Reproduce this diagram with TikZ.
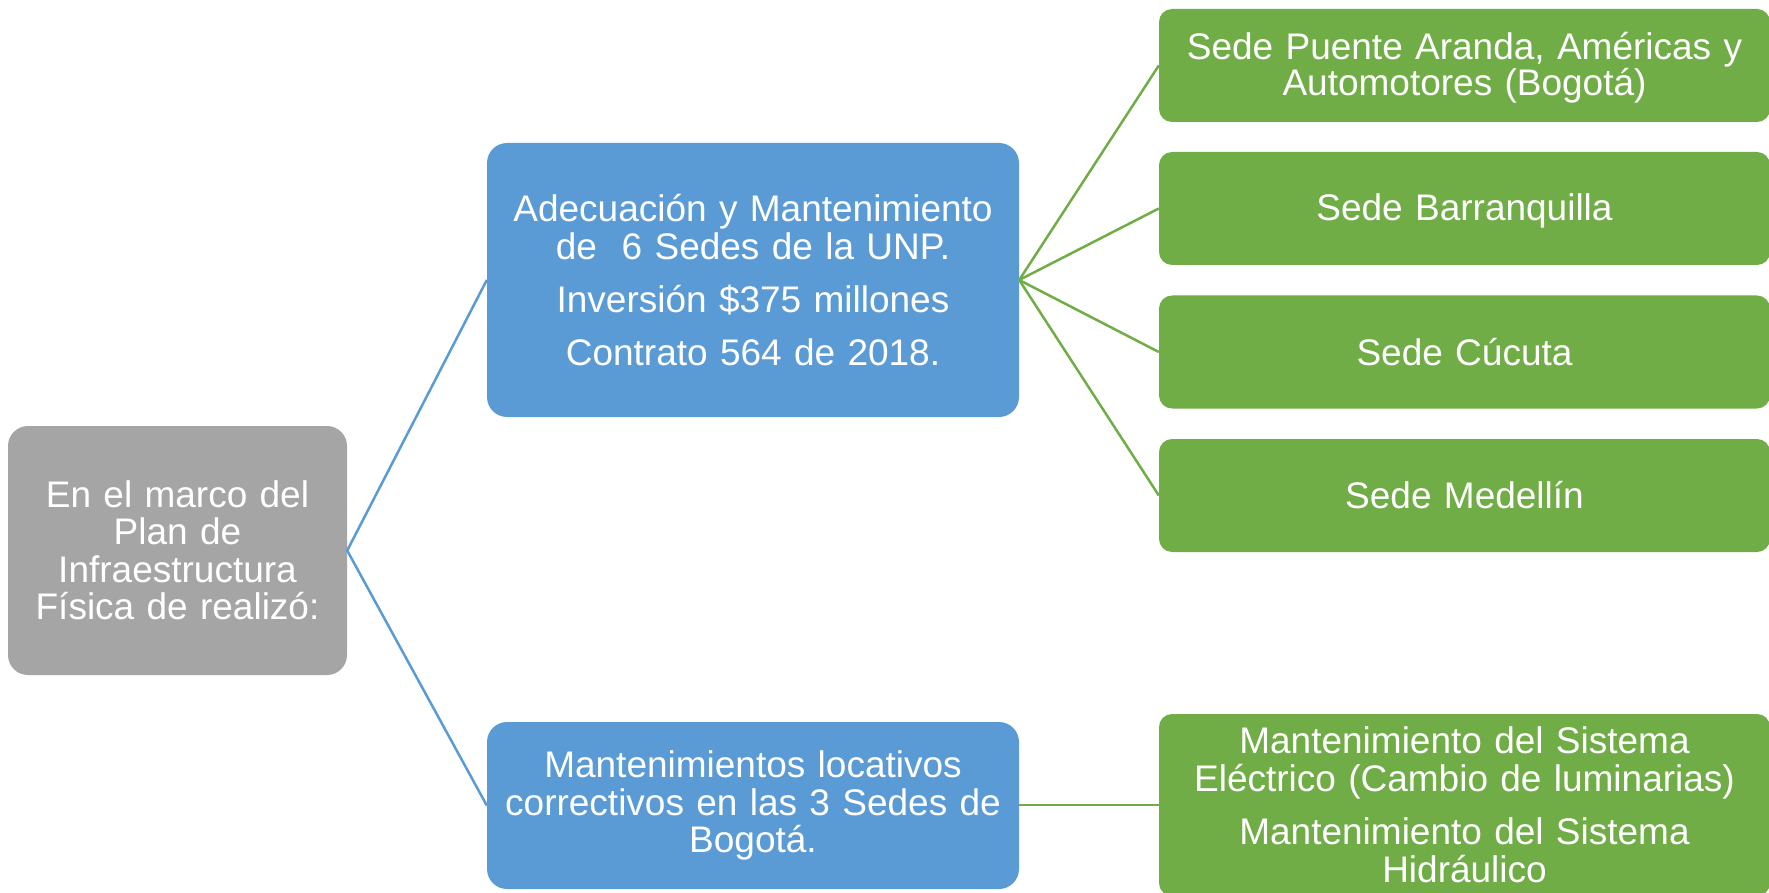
\documentclass[tikz,border=0pt]{standalone}
\usepackage{fontspec}
\setmainfont{Liberation Sans}
\definecolor{boxgray}{HTML}{A5A5A5}
\definecolor{boxblue}{HTML}{5B9BD5}
\definecolor{boxgreen}{HTML}{70AD47}
\tikzset{
  base/.style={rounded corners=20pt, text=white, align=center, inner sep=0pt,
    font=\fontsize{37}{37.5}\selectfont},
  graybox/.style={base, fill=boxgray},
  bluebox/.style={base, fill=boxblue},
  greenbox/.style={base, fill=boxgreen, rounded corners=13pt},
  blueline/.style={draw=boxblue, line width=2.5pt},
  greenline/.style={draw=boxgreen, line width=2.5pt},
}
\begin{document}
\begin{tikzpicture}[x=1pt,y=-1pt]
\useasboundingbox (0,0) rectangle (1769,893);
\clip (0,0) rectangle (1769,893);
\node[graybox, minimum width=339pt, minimum height=249pt, text width=320pt] (g) at (177.5,550.5)
  {En el marco del\\Plan de\\Infraestructura\\Física de realizó:};
\node[bluebox, minimum width=532pt, minimum height=274pt, text width=510pt] (b1) at (753,280)
  {Adecuación y Mantenimiento\\de\ \ 6 Sedes de la UNP.\\[16pt]Inversión \$375 millones\\[15pt]Contrato 564 de 2018.};
\node[bluebox, minimum width=532pt, minimum height=167pt, text width=510pt] (b2) at (753,805.5)
  {Mantenimientos locativos\\correctivos en las 3 Sedes de\\Bogotá.};
\node[greenbox, minimum width=611pt, minimum height=113pt, text width=600pt, text height=0pt, text depth=11.5pt] (s1) at (1464.5,65.5)
  {Sede Puente Aranda, Américas y\\[-1.5pt]Automotores (Bogotá)};
\node[greenbox, minimum width=611pt, minimum height=113pt, text width=600pt, text height=24.5pt, text depth=0pt] (s2) at (1464.5,208.5)
  {Sede Barranquilla};
\node[greenbox, minimum width=611pt, minimum height=113pt, text width=600pt] (s3) at (1464.5,352)
  {Sede Cúcuta};
\node[greenbox, minimum width=611pt, minimum height=113pt, text width=600pt] (s4) at (1464.5,495.5)
  {Sede Medellín};
\node[greenbox, minimum width=611pt, minimum height=182pt, text width=600pt] (s5) at (1464.5,805)
  {Mantenimiento del Sistema\\Eléctrico (Cambio de luminarias)\\[16pt]Mantenimiento del Sistema\\Hidráulico};
\draw[blueline] (b1.west) -- (g.east) -- (b2.west);
\draw[greenline] (b1.east) -- (s1.west);
\draw[greenline] (b1.east) -- (s2.west);
\draw[greenline] (b1.east) -- (s3.west);
\draw[greenline] (b1.east) -- (s4.west);
\draw[greenline] (b2.east |- s5.west) -- (s5.west);
\end{tikzpicture}
\end{document}
